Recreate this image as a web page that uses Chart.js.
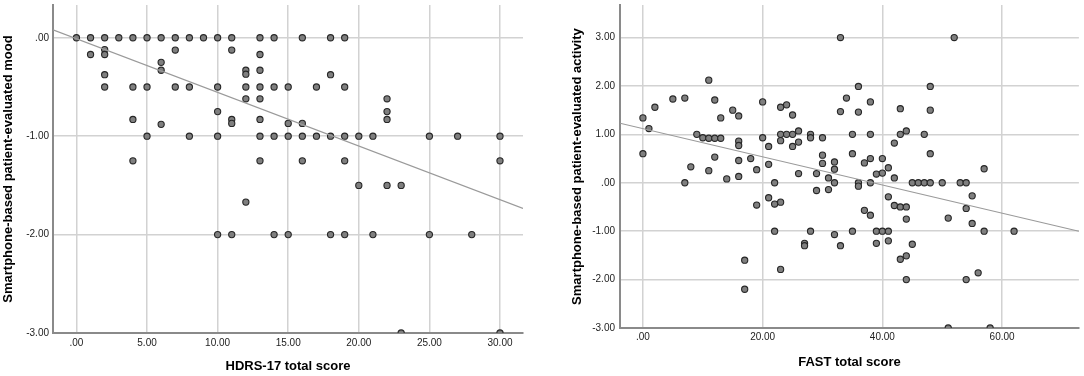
<!DOCTYPE html>
<html><head><meta charset="utf-8">
<script src="https://cdn.jsdelivr.net/npm/chart.js@4.4.1/dist/chart.umd.min.js"></script>
<style>
html,body{margin:0;padding:0;background:#fff;width:1084px;height:376px;overflow:hidden;}
canvas{position:absolute;top:0;}
#c1{left:0;} #c2{left:545px;}
</style></head><body>
<canvas id="c1" width="540" height="376"></canvas>
<canvas id="c2" width="539" height="376"></canvas>
<script>
// ---- Left panel: HDRS-17 vs mood ----
const hdrsScore = [
 0, 1,1, 2,2,2,2,2, 3, 4,4,4,4,
 5,5,5, 6,6,6,6, 7,7,7, 8,8,8, 9,
 10,10,10,10,10, 11,11,11,11,11, 12,12,12,12,12,
 13,13,13,13,13,13,13,13, 14,14,14,14,
 15,15,15,15, 16,16,16,16, 17,17, 18,18,18,18,
 19,19,19,19,19, 20,20, 21,21, 22,22,22,22, 23,23,
 25,25, 27, 28, 30,30,30
];
const moodScore = [
 0, 0,-0.17, 0,-0.12,-0.17,-0.375,-0.5, 0, 0,-0.5,-0.83,-1.25,
 0,-0.5,-1, 0,-0.25,-0.33,-0.88, 0,-0.125,-0.5, 0,-0.5,-1, 0,
 0,-0.5,-0.75,-1,-2, 0,-0.125,-0.83,-0.87,-2, -0.33,-0.37,-0.5,-0.62,-1.67,
 0,-0.17,-0.33,-0.5,-0.62,-0.83,-1,-1.25, 0,-0.5,-1,-2,
 -0.5,-0.87,-1,-2, 0,-0.87,-1,-1.25, -0.5,-1, 0,-0.375,-1,-2,
 0,-0.5,-1,-1.25,-2, -1,-1.5, -1,-2, -0.62,-0.75,-0.83,-1.5, -1.5,-3,
 -1,-2, -1, -2, -1,-1.25,-3
];
const hdrsTicks = [0, 5, 10, 15, 20, 25, 30];
const moodTicks = [0, -1, -2, -3];
const moodFit = [-0.01, -0.0545];   // intercept, slope (fit line)

// ---- Right panel: FAST vs activity ----
const fastScore = [
 0,0, 1, 2, 5, 7,7, 8, 9, 10,
 11,11,11, 12,12,12, 13,13, 14, 15,
 16,16,16,16,16, 17,17, 18, 19,19, 20,20,
 21,21,21, 22,22,22, 23,23,23,23,23, 24,24,
 25,25,25, 26,26,26, 27,27, 28,28,28, 29,29,
 30,30,30, 31,31, 32,32,32,32, 33,33,33, 34,
 35,35,35, 36,36,36,36, 37,37, 38,38,38,38,38,
 39,39,39, 40,40,40, 41,41,41,41, 42,42,42,
 43,43,43,43, 44,44,44,44,44, 45,45, 46, 47,47,
 48,48,48,48, 50, 51,51, 52, 53, 54,54,54,
 55,55, 56, 57,57, 58, 62
];
const activityScore = [
 1.34,0.60, 1.12, 1.56, 1.73, 1.75,0, 0.33, 1.00, 0.93,
 2.12,0.92,0.25, 1.71,0.92,0.53, 1.34,0.92, 0.08, 1.50,
 1.38,0.86,0.77,0.46,0.13, -1.60,-2.20, 0.50, 0.27,-0.46, 1.67,0.93,
 0.75,0.38,-0.31, 0,-0.44,-1.00, 1.56,1.00,0.87,-0.40,-1.79, 1.61,1.00,
 1.40,1.00,0.75, 1.07,0.84,0.19, -1.25,-1.30, 1.00,0.93,-1.00, 0.19,-0.16,
 0.93,0.57,0.40, 0.10,-0.14, 0.43,0.28,0,-1.07, 3.00,1.47,-1.30, 1.75,
 1.00,0.60,-1.00, 1.99,1.46,0,-0.07, 0.41,-0.57, 1.67,1.00,0.50,0,-0.67,
 0.18,-1.00,-1.25, 0.50,0.20,-1.00, 0.31,-0.29,-1.00,-1.20, 0.82,0.10,-0.47,
 1.53,1.00,-0.50,-1.58, 1.07,-0.50,-0.75,-1.51,-2.00, 0,-1.27, 0, 1.00,0,
 1.99,1.50,0.60,0, 0, -0.73,-3.00, 3.00, 0, 0,-0.53,-2.00,
 -0.27,-0.84, -1.86, 0.29,-1.00, -3.00, -1.00
];
const fastTicks = [0, 20, 40, 60];
const activityTicks = [3, 2, 1, 0, -1, -2, -3];
const activityFit = [1.118, -0.0291];

function fmt(v){ return v === 0 ? '.00' : Number(v).toFixed(2); }

function build(id, xs, ys, fit, cfg){
  const pts = xs.map((x, i) => ({x: x, y: ys[i]}));
  const line = [cfg.xMin, cfg.xMax].map(x => ({x: x, y: fit[0] + fit[1] * x}));
  const tickFont = {family: "'Liberation Sans', Arial, sans-serif", size: 10};
  const titleFont = {family: "'Liberation Sans', Arial, sans-serif", size: 13, weight: 'bold'};
  new Chart(document.getElementById(id), {
    type: 'scatter',
    data: {datasets: [
      {type: 'line', data: line, borderColor: '#9a9a9a', borderWidth: 1.2, pointRadius: 0, fill: false, order: 0},
      {data: pts, pointRadius: 3.1, backgroundColor: '#7f7f7f', borderColor: '#262626',
       pointBackgroundColor: '#7f7f7f', pointBorderColor: '#262626', borderWidth: 1.1, pointBorderWidth: 1.1, order: 1}
    ]},
    options: {
      responsive: false, animation: false, devicePixelRatio: 1,
      layout: {padding: cfg.pad},
      plugins: {legend: {display: false}, tooltip: {enabled: false}},
      scales: {
        x: {
          type: 'linear', min: cfg.xMin, max: cfg.xMax,
          afterBuildTicks: s => { s.ticks = cfg.xTicks.map(v => ({value: v})); },
          afterFit: s => { s.height = cfg.xH; s.paddingLeft = 0; s.paddingRight = 0; },
          grid: {color: '#d2d2d2', lineWidth: 1.5, drawTicks: false},
          border: {display: true, color: '#8a8a8a', width: 2},
          ticks: {padding: cfg.xTickPad, font: tickFont, color: '#222', callback: fmt, maxRotation: 0, autoSkip: false},
          title: {display: true, text: cfg.xTitle, font: titleFont, color: '#000', padding: {top: 0, bottom: cfg.xTitlePad}}
        },
        y: {
          type: 'linear', min: cfg.yMin, max: cfg.yMax,
          afterBuildTicks: s => { s.ticks = cfg.yTicks.map(v => ({value: v})); },
          afterFit: s => { s.width = cfg.yW; s.paddingTop = 0; s.paddingBottom = 0; },
          grid: {color: '#d2d2d2', lineWidth: 1.5, drawTicks: false},
          border: {display: true, color: '#8a8a8a', width: 2},
          ticks: {padding: cfg.yTickPad, font: tickFont, color: '#222', callback: fmt, autoSkip: false},
          title: {display: true, text: cfg.yTitle, font: titleFont, color: '#000', padding: {top: cfg.yTitlePad, bottom: 0}}
        }
      }
    }
  });
}

build('c1', hdrsScore, moodScore, moodFit, {
  xMin: -1.66, xMax: 31.63, yMin: -3, yMax: 0.332,
  xTicks: hdrsTicks, yTicks: moodTicks,
  xTitle: 'HDRS-17 total score', yTitle: 'Smartphone-based patient-evaluated mood',
  pad: {left: 0, right: 17, top: 5, bottom: 0},
  xH: 43, yW: 53, xTickPad: 4, yTickPad: 4, xTitlePad: 2, yTitlePad: 1
});

build('c2', fastScore, activityScore, activityFit, {
  xMin: -3.83, xMax: 72.83, yMin: -3, yMax: 3.67,
  xTicks: fastTicks, yTicks: activityTicks,
  xTitle: 'FAST total score', yTitle: 'Smartphone-based patient-evaluated activity',
  pad: {left: 0, right: 4, top: 3, bottom: 0},
  xH: 48, yW: 75, xTickPad: 3, yTickPad: 5, xTitlePad: 6, yTitlePad: 25
});
</script>
</body></html>
